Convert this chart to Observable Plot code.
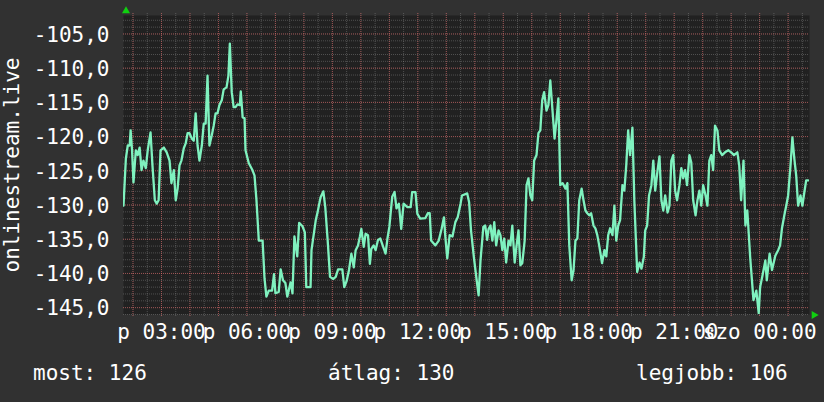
<!DOCTYPE html>
<html><head><meta charset="utf-8">
<script src="https://cdn.jsdelivr.net/npm/d3@7"></script>
<script src="https://cdn.jsdelivr.net/npm/@observablehq/plot@0.6"></script>
<style>
html,body{margin:0;padding:0;background:#313131;}
body{width:824px;height:402px;overflow:hidden;position:relative;font-family:"DejaVu Sans Mono",monospace;}
#chart{position:absolute;left:0;top:0;}
.leg{position:absolute;top:363px;color:#fff;font-size:21px;line-height:1;white-space:pre;font-family:"DejaVu Sans Mono",monospace;}
</style></head><body>
<div id="chart"></div>
<div id="legend"></div>
<script>
// ---- data ----
const times = [
"p 01:40","p 01:45","p 01:49","p 01:53","p 01:55","p 01:58","p 02:01","p 02:06","p 02:10","p 02:14",
"p 02:18","p 02:22","p 02:27","p 02:31","p 02:37","p 02:41","p 02:46","p 02:50","p 02:54","p 02:58",
"p 03:05","p 03:11","p 03:17","p 03:21","p 03:26","p 03:30","p 03:34","p 03:38","p 03:42","p 03:47",
"p 03:51","p 03:55","p 03:59","p 04:04","p 04:08","p 04:12","p 04:16","p 04:20","p 04:25","p 04:29",
"p 04:33","p 04:37","p 04:41","p 04:46","p 04:50","p 04:54","p 04:58","p 05:02","p 05:07","p 05:11",
"p 05:17","p 05:21","p 05:24","p 05:28","p 05:32","p 05:36","p 05:40","p 05:45","p 05:47","p 05:51",
"p 05:55","p 05:57","p 06:04","p 06:11","p 06:16","p 06:20","p 06:25","p 06:33","p 06:37","p 06:41",
"p 06:46","p 06:53","p 06:57","p 07:00","p 07:07","p 07:11","p 07:16","p 07:21","p 07:25","p 07:32",
"p 07:36","p 07:40","p 07:46","p 07:50","p 07:57","p 08:02","p 08:05","p 08:14","p 08:16","p 08:25",
"p 08:29","p 08:35","p 08:41","p 08:45","p 08:50","p 08:55","p 09:02","p 09:07","p 09:12","p 09:21",
"p 09:25","p 09:30","p 09:35","p 09:40","p 09:45","p 09:49","p 09:54","p 09:58","p 10:01","p 10:06",
"p 10:10","p 10:15","p 10:19","p 10:22","p 10:27","p 10:31","p 10:36","p 10:41","p 10:47","p 10:52",
"p 10:56","p 11:00","p 11:06","p 11:11","p 11:15","p 11:20","p 11:25","p 11:30","p 11:38","p 11:45",
"p 11:48","p 11:55","p 11:59","p 12:05","p 12:16","p 12:21","p 12:25","p 12:28","p 12:37","p 12:44",
"p 12:50","p 12:55","p 12:58","p 13:02","p 13:07","p 13:13","p 13:19","p 13:24","p 13:30","p 13:33",
"p 13:44","p 13:48","p 13:52","p 13:58","p 14:04","p 14:08","p 14:12","p 14:18","p 14:22","p 14:26",
"p 14:29","p 14:33","p 14:37","p 14:41","p 14:45","p 14:50","p 14:54","p 14:58","p 15:02","p 15:06",
"p 15:11","p 15:15","p 15:19","p 15:24","p 15:28","p 15:32","p 15:36","p 15:40","p 15:45","p 15:49",
"p 15:53","p 15:57","p 16:01","p 16:05","p 16:10","p 16:14","p 16:18","p 16:22","p 16:26","p 16:31",
"p 16:35","p 16:39","p 16:44","p 16:48","p 16:52","p 16:56","p 17:00","p 17:05","p 17:11","p 17:15",
"p 17:19","p 17:24","p 17:28","p 17:32","p 17:36","p 17:40","p 17:45","p 17:49","p 17:53","p 17:57",
"p 18:01","p 18:05","p 18:10","p 18:14","p 18:18","p 18:22","p 18:28","p 18:33","p 18:37","p 18:41",
"p 18:45","p 18:50","p 18:54","p 18:58","p 19:02","p 19:06","p 19:11","p 19:15","p 19:19","p 19:23",
"p 19:27","p 19:32","p 19:36","p 19:42","p 19:47","p 19:51","p 19:56","p 19:59","p 20:03","p 20:07",
"p 20:12","p 20:16","p 20:20","p 20:25","p 20:29","p 20:33","p 20:37","p 20:41","p 20:46","p 20:50",
"p 20:54","p 20:58","p 21:02","p 21:06","p 21:11","p 21:15","p 21:19","p 21:23","p 21:27","p 21:32",
"p 21:36","p 21:40","p 21:45","p 21:49","p 21:53","p 21:57","p 22:01","p 22:06","p 22:10","p 22:14",
"p 22:18","p 22:22","p 22:26","p 22:31","p 22:35","p 22:41","p 22:47","p 22:54","p 23:00","p 23:06",
"p 23:13","p 23:17","p 23:21","p 23:26","p 23:30","p 23:34","p 23:40","p 23:47","p 23:53","p 23:58",
"szo 00:01","szo 00:06","szo 00:12","szo 00:15","szo 00:21","szo 00:26","szo 00:33","szo 00:39","szo 00:43","szo 00:47",
"szo 00:52","szo 00:56","szo 01:00","szo 01:05","szo 01:09","szo 01:13","szo 01:17","szo 01:21","szo 01:26","szo 01:30",
"szo 01:34","szo 01:38","szo 01:42"
];
const values = [
-130.1,-123.2,-121.3,-121.3,-119.1,-122.0,-126.7,-122.0,-122.7,-121.6,
-124.9,-123.5,-124.6,-122.0,-119.4,-124.2,-129.3,-129.8,-129.3,-122.0,
-121.6,-122.3,-123.5,-126.8,-124.9,-129.3,-127.6,-124.2,-123.5,-121.7,
-121.0,-119.5,-119.5,-120.3,-120.6,-116.6,-121.3,-123.5,-121.3,-118.1,
-118.1,-111.1,-121.3,-119.8,-118.4,-116.6,-116.6,-115.4,-114.7,-113.1,
-112.8,-111.1,-106.4,-113.5,-115.7,-115.7,-115.3,-115.4,-113.4,-117.2,
-117.3,-122.0,-123.9,-124.8,-125.7,-129.2,-135.2,-135.2,-140.7,-143.4,
-142.5,-142.5,-140.1,-142.9,-142.7,-139.4,-141.0,-141.4,-143.4,-141.3,
-142.9,-134.6,-137.5,-132.6,-133.1,-134.0,-142.0,-142.0,-136.6,-132.2,
-131.0,-128.9,-128.0,-130.3,-135.1,-140.5,-140.8,-140.5,-139.4,-139.4,
-142.0,-141.1,-139.5,-137.1,-139.1,-136.6,-135.9,-134.6,-133.5,-136.1,
-134.2,-134.4,-138.6,-136.4,-135.9,-136.6,-135.1,-134.9,-136.1,-137.1,
-134.9,-133.2,-128.8,-128.1,-130.5,-129.8,-133.5,-129.8,-130.3,-130.3,
-128.1,-128.1,-131.3,-132.0,-131.9,-131.2,-131.2,-135.2,-135.9,-135.2,
-133.5,-131.8,-134.7,-137.8,-134.4,-134.6,-132.5,-131.8,-129.8,-128.6,
-128.3,-129.6,-133.7,-137.6,-141.0,-143.2,-138.1,-133.2,-133.0,-135.1,
-133.5,-133.0,-135.2,-132.5,-135.9,-133.7,-134.4,-136.6,-134.9,-138.4,
-135.2,-135.9,-133.0,-138.4,-135.9,-133.7,-138.8,-138.5,-135.2,-127.1,
-126.1,-128.6,-129.3,-123.5,-122.7,-119.5,-119.1,-114.7,-113.5,-116.2,
-115.4,-111.8,-116.5,-120.3,-117.6,-114.4,-127.1,-126.8,-127.6,-126.8,
-135.9,-141.0,-139.5,-135.2,-134.9,-129.3,-127.6,-129.3,-130.8,-131.2,
-131.5,-131.2,-133.0,-133.4,-134.4,-135.9,-138.5,-136.6,-137.5,-134.4,
-133.4,-134.4,-130.1,-135.2,-133.0,-132.2,-127.1,-127.9,-124.2,-119.1,
-122.7,-118.7,-129.3,-139.8,-138.4,-139.3,-137.6,-133.7,-133.0,-128.6,
-127.1,-123.5,-127.9,-124.9,-122.9,-129.3,-130.8,-128.6,-131.1,-130.1,
-123.5,-122.7,-127.9,-129.3,-127.1,-124.6,-126.1,-124.9,-127.1,-122.7,
-123.8,-129.3,-131.5,-129.3,-127.9,-130.1,-127.1,-128.6,-130.1,-123.5,
-122.7,-124.9,-118.4,-119.1,-122.0,-122.7,-122.3,-122.0,-122.3,-122.7,
-122.3,-124.2,-129.3,-123.5,-133.0,-130.8,-137.6,-143.9,-142.5,-145.8,
-142.0,-140.3,-138.1,-141.0,-137.1,-139.5,-137.4,-136.6,-135.9,-133.4,
-131.5,-130.1,-128.6,-124.2,-120.1,-123.2,-125.7,-130.1,-128.6,-130.1,
-128.2,-126.4,-126.4
];
const seriesName = "onlinestream.live";
const xStart = "p 01:40", xEnd = "szo 01:45";
const yMin = -146, yMax = -102.3;
const yTickValues = [-145, -140, -135, -130, -125, -120, -115, -110, -105];
const xTickTimes = ["p 03:00","p 06:00","p 09:00","p 12:00","p 15:00","p 18:00","p 21:00","szo 00:00"];
const xTickLabels = ["p 03:00","p 06:00","p 09:00","p 12:00","p 15:00","p 18:00","p 21:00","szo 00:00"];
const legendNames = ["most", "átlag", "legjobb"];
const legendValues = [126, 130, 106];

// ---- helpers ----
function parseT(s) {
  const [day, hm] = s.split(" ");
  const [h, m] = hm.split(":").map(Number);
  return new Date(Date.UTC(2024, 2, day === "szo" ? 16 : 15, h, m));
}
const data = times.map((t, i) => ({t: parseT(t), v: values[i]}));
const x0 = parseT(xStart), x1 = parseT(xEnd);
const xMinor = d3.utcMinute.every(30).range(x0, x1);
const xMajor = d3.utcHour.every(1).range(x0, x1);
const yMinor = d3.range(Math.ceil(yMin), Math.floor(yMax) + 1);
const fmtY = d => d.toFixed(1).replace(".", ",");
const tickDates = xTickTimes.map(parseT);

const chart = Plot.plot({
  width: 824, height: 350,
  marginLeft: 123, marginRight: 15, marginTop: 15, marginBottom: 36,
  style: {background: "transparent", color: "#fff", fontFamily: "'DejaVu Sans Mono', monospace", fontSize: "21px"},
  x: {type: "utc", domain: [x0, x1]},
  y: {domain: [yMin, yMax]},
  marks: [
    Plot.frame({fill: "#212121", stroke: null}),
    Plot.ruleY(yMinor, {stroke: "#c8c8c8", strokeOpacity: 0.28, strokeDasharray: "1,1"}),
    Plot.ruleX(xMinor, {stroke: "#c8c8c8", strokeOpacity: 0.28, strokeDasharray: "1,1", insetTop: -2, insetBottom: -2}),
    Plot.ruleY(yTickValues, {stroke: "#ff5a5a", strokeOpacity: 0.45, strokeDasharray: "1,1"}),
    Plot.ruleX(xMajor, {stroke: "#ff5a5a", strokeOpacity: 0.45, strokeDasharray: "1,1", insetTop: -2, insetBottom: -3}),
    Plot.line(data, {x: "t", y: "v", stroke: "#7ff2bf", strokeWidth: 2.3, clip: true}),
    Plot.axisY({ticks: yTickValues, tickFormat: fmtY, tickSize: 0, tickPadding: 14, dy: 1, label: null, fontSize: 21}),
    Plot.axisX({ticks: tickDates, tickFormat: (d) => xTickLabels[tickDates.findIndex(t => +t === +d)], tickSize: 0, tickPadding: 9.5, label: null, fontSize: 21}),
    Plot.text([seriesName], {frameAnchor: "left", rotate: -90, dx: -111, fill: "#fff", fontSize: 21, textAnchor: "middle", lineAnchor: "middle"}),
    Plot.dot([0], {frameAnchor: "top-left", dx: 2.5, dy: -4.5, symbol: "triangle", r: 3, fill: "#10d010", stroke: null}),
    Plot.dot([0], {frameAnchor: "bottom-right", dx: 4.5, dy: 0.5, symbol: "triangle", rotate: 90, r: 3, fill: "#10d010", stroke: null})
  ]
});
document.getElementById("chart").appendChild(chart);

const legendX = [33, 328, 636];
const legend = document.getElementById("legend");
legendNames.forEach((n, i) => {
  const s = document.createElement("div");
  s.className = "leg";
  s.style.left = legendX[i] + "px";
  s.textContent = n + ": " + legendValues[i];
  legend.appendChild(s);
});
</script>
</body></html>
